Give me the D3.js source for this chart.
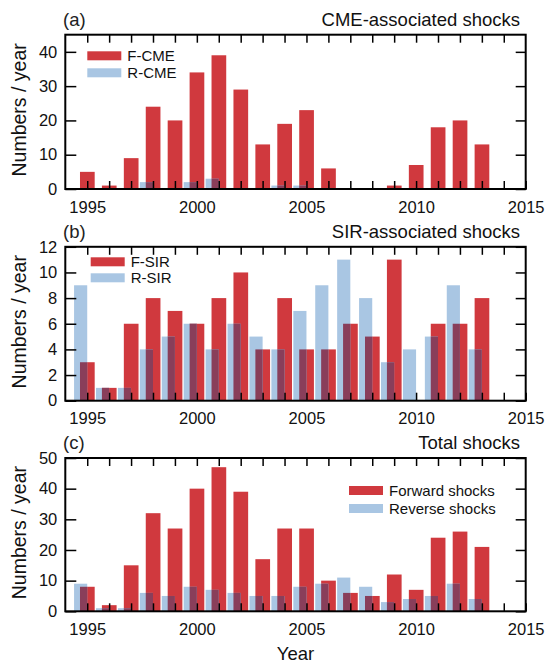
<!DOCTYPE html>
<html>
<head>
<meta charset="utf-8">
<script src="https://cdn.jsdelivr.net/npm/d3@7"></script>
<style>
  body { margin: 0; background: #fff; }
  svg { font-family: "Liberation Sans", Arial, sans-serif; }
</style>
</head>
<body>
<div id="chart"></div>
<script>
// years 1995..2014, counts per year
var years = [1995, 1996, 1997, 1998, 1999, 2000, 2001, 2002, 2003, 2004,
             2005, 2006, 2007, 2008, 2009, 2010, 2011, 2012, 2013, 2014];

var fCME = [5, 1, 9, 24, 20, 34, 39, 29, 13, 19, 23, 6, 0, 0, 1, 7, 18, 20, 13, 0];
var rCME = [0, 0, 0, 2, 0, 2, 3, 0, 0, 1, 1, 0, 0, 0, 0, 0, 0, 0, 0, 0];
var fSIR = [3, 1, 6, 8, 7, 6, 8, 10, 4, 8, 4, 4, 6, 5, 11, 0, 6, 6, 8, 0];
var rSIR = [9, 1, 1, 4, 5, 6, 4, 6, 5, 4, 7, 9, 11, 8, 3, 4, 5, 9, 4, 0];
var fTotal = [8, 2, 15, 32, 27, 40, 47, 39, 17, 27, 27, 10, 6, 5, 12, 7, 24, 26, 21, 0];
var rTotal = [9, 1, 1, 6, 5, 8, 7, 6, 5, 5, 8, 9, 11, 8, 3, 4, 5, 9, 4, 0];

var xTickLabels = [1995, 2000, 2005, 2010, 2015];
var titles = ["CME-associated shocks", "SIR-associated shocks", "Total shocks"];
var tags = ["(a)", "(b)", "(c)"];
var legendNames = [["F-CME", "R-CME"], ["F-SIR", "R-SIR"], ["Forward shocks", "Reverse shocks"]];

var width = 550;
var height = 665;
var left = 65.3;
var right = 525.7;

var red = "#d0393e";
var blue = "#a9c6e3";
var both = "#893e5a";

var panels = [
    { f: fCME, r: rCME, top: 34.7, bottom: 189, yMax: 45, yTicks: [0, 10, 20, 30, 40],
      legend: { x: 87.3, y: 51.3, gap: 17 } },
    { f: fSIR, r: rSIR, top: 246.8, bottom: 400.7, yMax: 12, yTicks: [0, 2, 4, 6, 8, 10, 12],
      legend: { x: 90.7, y: 257.3, gap: 16 } },
    { f: fTotal, r: rTotal, top: 458, bottom: 611.3, yMax: 50, yTicks: [0, 10, 20, 30, 40, 50],
      legend: { x: 349, y: 486, gap: 18 } }
];

var x = d3.scaleLinear().domain([1994, 2015]).range([left, right]);

var svg = d3.select("#chart").append("svg")
    .attr("width", width)
    .attr("height", height);

panels.forEach(function (p, i) {
    var y = d3.scaleLinear().domain([0, p.yMax]).range([p.bottom, p.top]);
    var g = svg.append("g");

    var rows = years.map(function (yr, k) { return { year: yr, f: p.f[k], r: p.r[k] }; });

    // forward (red) bars, centered on the year
    g.selectAll(".fbar")
        .data(rows.filter(function (d) { return d.f > 0; }))
        .enter().append("rect")
        .attr("x", function (d) { return x(d.year - 0.33); })
        .attr("width", function (d) { return x(d.year + 0.34) - x(d.year - 0.33); })
        .attr("y", function (d) { return y(d.f); })
        .attr("height", function (d) { return y(0) - y(d.f); })
        .attr("fill", red);

    // reverse (blue) bars, shifted left
    g.selectAll(".rbar")
        .data(rows.filter(function (d) { return d.r > 0; }))
        .enter().append("rect")
        .attr("x", function (d) { return x(d.year - 0.6); })
        .attr("width", function (d) { return x(d.year) - x(d.year - 0.6); })
        .attr("y", function (d) { return y(d.r); })
        .attr("height", function (d) { return y(0) - y(d.r); })
        .attr("fill", blue);

    // where the two overlap
    g.selectAll(".obar")
        .data(rows.filter(function (d) { return d.r > 0 && d.f > 0; }))
        .enter().append("rect")
        .attr("x", function (d) { return x(d.year - 0.33); })
        .attr("width", function (d) { return x(d.year) - x(d.year - 0.33); })
        .attr("y", function (d) { return y(Math.min(d.f, d.r)); })
        .attr("height", function (d) { return y(0) - y(Math.min(d.f, d.r)); })
        .attr("fill", both);

    // axes with inward ticks
    var bottomAxis = g.append("g")
        .attr("transform", "translate(0," + p.bottom + ")")
        .call(d3.axisBottom(x)
            .tickValues(years.concat([2015]))
            .tickSize(-8)
            .tickPadding(12)
            .tickFormat(function (d) { return xTickLabels.indexOf(d) >= 0 ? d : ""; }));

    var topAxis = g.append("g")
        .attr("transform", "translate(0," + p.top + ")")
        .call(d3.axisTop(x).tickValues(years).tickSize(-8).tickFormat(""));

    var leftAxis = g.append("g")
        .attr("transform", "translate(" + left + ",0)")
        .call(d3.axisLeft(y).tickValues(p.yTicks).tickSize(-11).tickPadding(8));

    var rightAxis = g.append("g")
        .attr("transform", "translate(" + right + ",0)")
        .call(d3.axisRight(y).tickValues(p.yTicks).tickSize(-10).tickFormat(""));

    [bottomAxis, topAxis, leftAxis, rightAxis].forEach(function (a) {
        a.select(".domain").remove();
        a.selectAll("line").attr("stroke", "#000").attr("stroke-width", 1.5);
        a.selectAll("text")
            .attr("fill", "#111")
            .style("font-family", "'Liberation Sans', Arial, sans-serif")
            .style("font-size", "16.5px");
    });

    g.append("rect")
        .attr("x", left)
        .attr("y", p.top)
        .attr("width", right - left)
        .attr("height", p.bottom - p.top)
        .attr("fill", "none")
        .attr("stroke", "#000")
        .attr("stroke-width", 2);

    g.append("text")
        .attr("x", 63)
        .attr("y", p.top - 9)
        .attr("font-size", "18.5px")
        .attr("fill", "#222")
        .text(tags[i]);

    g.append("text")
        .attr("x", 520)
        .attr("y", p.top - 9)
        .attr("text-anchor", "end")
        .attr("font-size", "18.5px")
        .attr("fill", "#111")
        .text(titles[i]);

    g.append("text")
        .attr("transform", "translate(26," + ((p.top + p.bottom) / 2 - 2) + ") rotate(-90)")
        .attr("text-anchor", "middle")
        .attr("font-size", "19.5px")
        .attr("fill", "#111")
        .text("Numbers / year");

    var lg = g.append("g").attr("transform", "translate(" + p.legend.x + "," + p.legend.y + ")");
    [red, blue].forEach(function (c, k) {
        lg.append("rect")
            .attr("x", 0)
            .attr("y", k * p.legend.gap)
            .attr("width", 34)
            .attr("height", 9)
            .attr("fill", c);
        lg.append("text")
            .attr("x", 40)
            .attr("y", k * p.legend.gap + 4.5)
            .attr("dy", "0.35em")
            .attr("font-size", "15px")
            .attr("fill", "#111")
            .text(legendNames[i][k]);
    });
});

svg.append("text")
    .attr("x", (left + right) / 2)
    .attr("y", 660)
    .attr("text-anchor", "middle")
    .attr("font-size", "18.5px")
    .attr("fill", "#111")
    .text("Year");
</script>
</body>
</html>
